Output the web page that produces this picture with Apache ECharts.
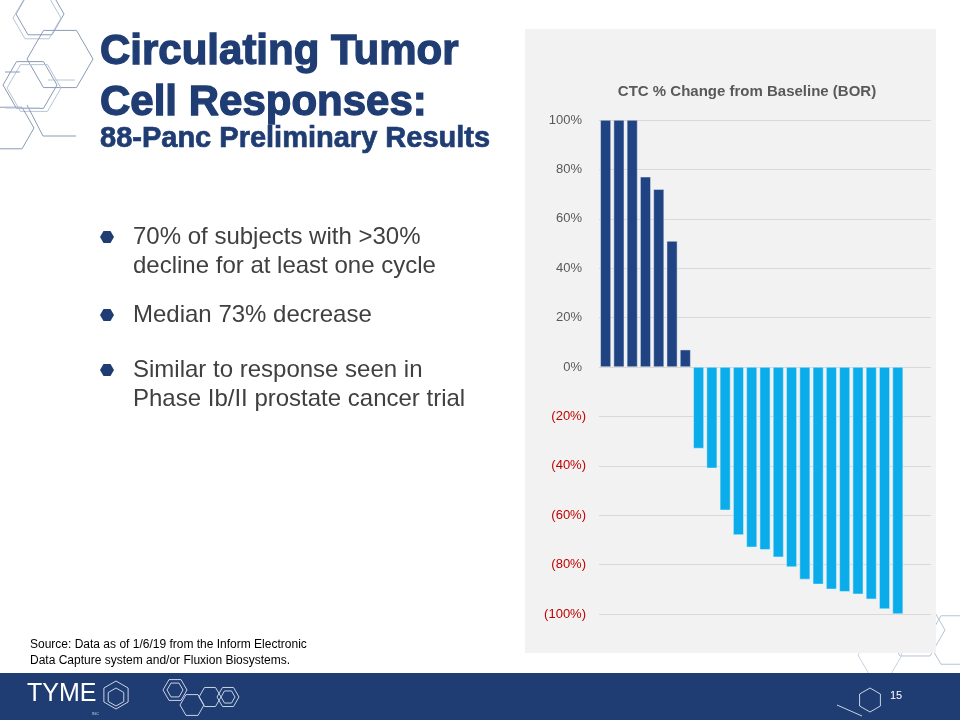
<!DOCTYPE html>
<html>
<head>
<meta charset="utf-8">
<script src="https://cdn.jsdelivr.net/npm/echarts@6/dist/echarts.min.js"></script>
<style>
html,body{margin:0;padding:0;background:#ffffff;}
#chart{width:960px;height:720px;}
</style>
</head>
<body>
<div id="chart"></div>
<script>
// ---- data ----
var categories = ['S1','S2','S3','S4','S5','S6','S7','S8','S9','S10','S11','S12','S13','S14','S15','S16','S17','S18','S19','S20','S21','S22','S23','S24','S25'];
var increaseValues = [100, 100, 100, 77, 72, 51, 7, null, null, null, null, null, null, null, null, null, null, null, null, null, null, null, null, null, null];
var decreaseValues = [null, null, null, null, null, null, null, -33, -41, -58, -68, -73, -74, -77, -81, -86, -88, -90, -91, -92, -94, -98, -100, null, null];
var yTicks = [-100, -80, -60, -40, -20, 0, 20, 40, 60, 80, 100];

var chartTitle = 'CTC % Change from Baseline (BOR)';
var slideTitle1 = 'Circulating Tumor';
var slideTitle2 = 'Cell Responses:';
var slideSubtitle = '88-Panc Preliminary Results';
var bullets = [
  ['70% of subjects with >30%', 'decline for at least one cycle'],
  ['Median 73% decrease'],
  ['Similar to response seen in', 'Phase Ib/II prostate cancer trial']
];
var sourceLines = ['Source: Data as of 1/6/19 from the Inform Electronic', 'Data Capture system and/or Fluxion Biosystems.'];
var pageNumber = '15';

// ---- decoration helpers ----
function hexPts(cx, cy, r, rot) {
  var p = [];
  for (var i = 0; i < 6; i++) {
    var a = (rot || 0) + i * Math.PI / 3;
    p.push([cx + r * Math.cos(a), cy + r * Math.sin(a)]);
  }
  return p;
}
function hex(cx, cy, r, color, width, rot, z) {
  return {type: 'polygon', shape: {points: hexPts(cx, cy, r, rot)}, style: {fill: 'none', stroke: color, lineWidth: width || 1}, silent: true, z: z || 1};
}
function line(x1, y1, x2, y2, color, z) {
  return {type: 'line', shape: {x1: x1, y1: y1, x2: x2, y2: y2}, style: {stroke: color, lineWidth: 1}, silent: true, z: z || 1};
}

var NAVY = '#1F3D73';
var DECO = '#8A9BB6';
var graphics = [];

// top-left hexagon cluster
graphics.push(hex(40, 14, 24, DECO, 1));
graphics.push(hex(37, 18, 24, '#B8C4D6', 1));
graphics.push(hex(60, 59, 33, DECO, 1));
graphics.push(hex(30, 85, 27, DECO, 1));
graphics.push(hex(34, 88, 27, '#B8C4D6', 1));
graphics.push(hex(10, 128, 24, DECO, 1));
graphics.push(line(43, 136, 76, 136, DECO));
graphics.push(line(27, 105, 43, 136, DECO));
graphics.push(line(5, 72, 20, 72, DECO));
graphics.push(line(48, 80, 75, 80, '#B8C4D6'));
graphics.push(line(5, 108, 40, 108, '#B8C4D6'));

// bottom-right decorations
graphics.push(hex(915, 630, 30, '#B8C4D6', 1, 0, 0));
graphics.push(hex(955, 640, 28, '#B8C4D6', 1, 0, 0));
graphics.push(hex(880, 655, 22, '#C8D2E0', 1, 0, 0));
graphics.push(hex(860, 630, 18, '#C8D2E0', 1, 0, 0));

// chart panel background
graphics.push({type: 'rect', shape: {x: 525, y: 29, width: 411, height: 624}, style: {fill: '#F2F2F2'}, silent: true, z: 2});

// slide title
graphics.push({type: 'text', x: 100, y: 31, z: 5, style: {text: slideTitle1, font: 'bold 42px "Liberation Sans", Arial, sans-serif', fill: NAVY, stroke: NAVY, lineWidth: 1.3}});
graphics.push({type: 'text', x: 100, y: 82, z: 5, style: {text: slideTitle2, font: 'bold 42px "Liberation Sans", Arial, sans-serif', fill: NAVY, stroke: NAVY, lineWidth: 1.3}});
graphics.push({type: 'text', x: 100, y: 124, z: 5, style: {text: slideSubtitle, font: 'bold 29px "Liberation Sans", Arial, sans-serif', fill: NAVY, stroke: NAVY, lineWidth: 0.7}});

// bullets
var bulletTops = [[225, 254], [303], [358, 387]];
for (var b = 0; b < bullets.length; b++) {
  graphics.push({type: 'polygon', shape: {points: hexPts(107, bulletTops[b][0] + 12, 7, 0)}, style: {fill: NAVY}, z: 5});
  for (var l = 0; l < bullets[b].length; l++) {
    graphics.push({type: 'text', x: 133, y: bulletTops[b][l], z: 5, style: {text: bullets[b][l], font: '24px "Liberation Sans", Arial, sans-serif', fill: '#404040'}});
  }
}

// source
graphics.push({type: 'text', x: 30, y: 639, z: 5, style: {text: sourceLines[0], font: '12px "Liberation Sans", Arial, sans-serif', fill: '#000000'}});
graphics.push({type: 'text', x: 30, y: 655, z: 5, style: {text: sourceLines[1], font: '12px "Liberation Sans", Arial, sans-serif', fill: '#000000'}});

// footer band
graphics.push({type: 'rect', shape: {x: 0, y: 673, width: 960, height: 47}, style: {fill: NAVY}, silent: true, z: 3});
graphics.push({type: 'text', x: 27, y: 682, z: 6, style: {text: 'TYME', font: '25px "Liberation Sans", Arial, sans-serif', fill: '#ffffff'}});
graphics.push(hex(116, 695, 14, '#C9D3E3', 1, Math.PI / 6, 6));
graphics.push(hex(116, 697, 9, '#C9D3E3', 1, Math.PI / 6, 6));
graphics.push({type: 'text', x: 92, y: 712, z: 6, style: {text: 'INC', font: '4px sans-serif', fill: '#C9D3E3'}});
graphics.push(hex(175, 690, 12, '#C9D3E3', 1, 0, 6));
graphics.push(hex(175, 690, 8, '#C9D3E3', 1, 0, 6));
graphics.push(hex(192, 705, 12, '#C9D3E3', 1, 0, 6));
graphics.push(hex(210, 697, 11, '#C9D3E3', 1, 0, 6));
graphics.push(hex(228, 697, 11, '#C9D3E3', 1, 0, 6));
graphics.push(hex(228, 697, 7, '#C9D3E3', 1, 0, 6));
graphics.push(hex(870, 700, 12, '#C9D3E3', 1, Math.PI / 6, 6));
graphics.push(line(837, 705, 862, 716, '#C9D3E3', 6));
graphics.push({type: 'text', x: 890, y: 690, z: 6, style: {text: pageNumber, font: '11px "Liberation Sans", Arial, sans-serif', fill: '#ffffff'}});

// chart title
graphics.push({type: 'text', x: 747, y: 84, z: 5, style: {text: chartTitle, font: 'bold 15px "Liberation Sans", Arial, sans-serif', fill: '#595959', align: 'center'}});

var chart = echarts.init(document.getElementById('chart'), null, {renderer: 'canvas'});
chart.setOption({
  animation: false,
  backgroundColor: '#ffffff',
  graphic: {elements: graphics},
  grid: {left: 599, right: 29, top: 120, bottom: 106, containLabel: false, z: 4},
  xAxis: {
    type: 'category',
    data: categories,
    z: 4,
    axisLine: {show: false},
    axisTick: {show: false},
    axisLabel: {show: false},
    splitLine: {show: false}
  },
  yAxis: {
    type: 'value',
    min: yTicks[0],
    max: yTicks[yTicks.length - 1],
    interval: 20,
    z: 4,
    axisLine: {show: false},
    axisTick: {show: false},
    splitLine: {lineStyle: {color: '#D9D9D9', width: 1}},
    axisLabel: {
      margin: 13,
      fontFamily: '"Liberation Sans", Arial, sans-serif',
      fontSize: 13,
      formatter: function (v) {
        if (v < 0) return '{neg|(' + Math.abs(v) + '%)}';
        return '{pos|' + v + '%}';
      },
      rich: {
        neg: {color: '#C00000', fontSize: 13, fontFamily: '"Liberation Sans", Arial, sans-serif'},
        pos: {color: '#595959', fontSize: 13, fontFamily: '"Liberation Sans", Arial, sans-serif', padding: [0, 4, 0, 0]}
      }
    }
  },
  series: [
    {
      type: 'bar', name: 'Increase', data: increaseValues, stack: 'ctc', z: 4,
      barCategoryGap: '20%',
      itemStyle: {color: '#1F4383', borderColor: '#E8ECF3', borderWidth: 0.5}
    },
    {
      type: 'bar', name: 'Decrease', data: decreaseValues, stack: 'ctc', z: 4,
      barCategoryGap: '20%',
      itemStyle: {color: '#0AADEA', borderColor: '#E6F5FC', borderWidth: 0.5}
    }
  ]
});
</script>
</body>
</html>
